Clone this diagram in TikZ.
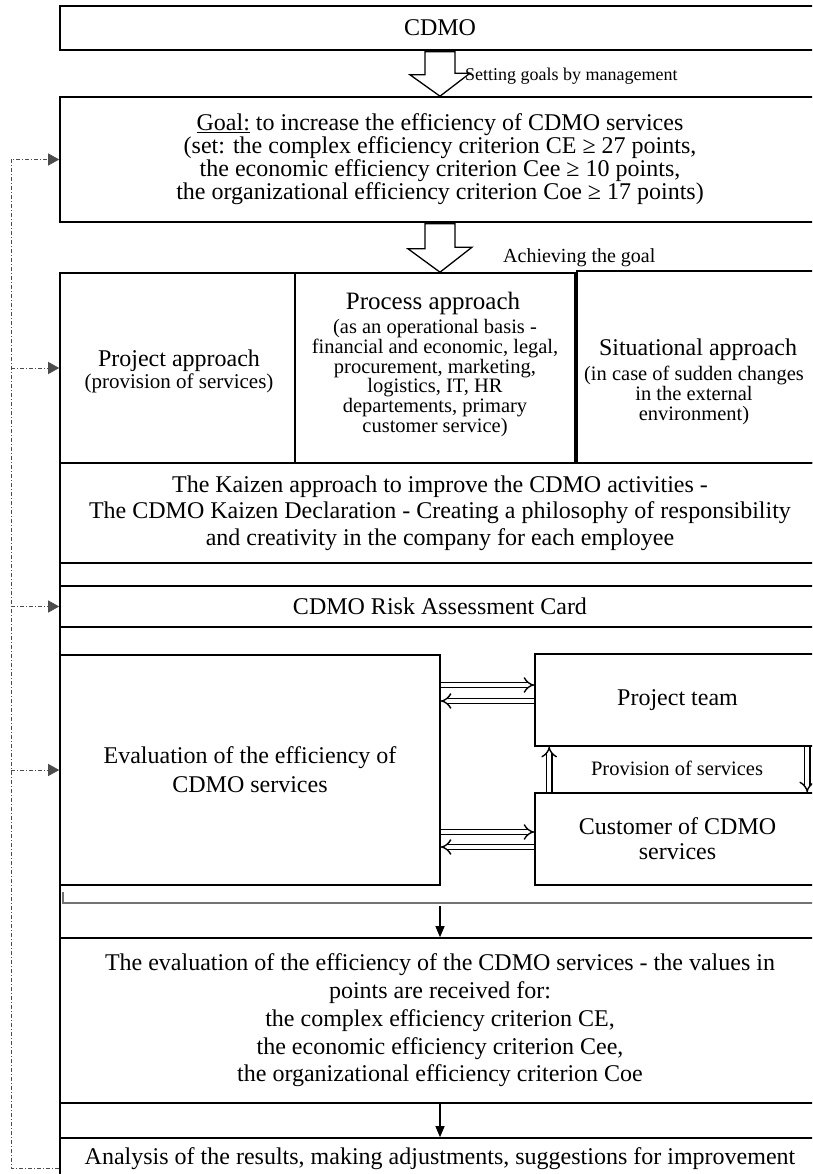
\documentclass[tikz,border=0pt]{standalone}
\usepackage{fontspec}
\setmainfont{Liberation Serif}
\usetikzlibrary{arrows.meta,calc}
\begin{document}
\begin{tikzpicture}[x=1pt,y=-1pt,
  box/.style={draw=black, line width=1.6pt, inner sep=0pt, align=center, font=\fontsize{24}{26.5}\selectfont},
  lbl/.style={inner sep=0pt, align=center},
  blk/.style={draw=black, line width=1.3pt, fill=white, line join=miter},
  dbl/.style={draw=black, double=white, double distance=4pt, line width=1.4pt, -{Implies}},
  fb/.style={draw=black!70, line width=0.8pt, dash pattern=on 4pt off 2pt on 1pt off 2pt},
  fbtip/.style={-{Triangle[width=12pt,length=11pt]}},
  thinarr/.style={draw=black, line width=1.1pt, -{Triangle[width=9pt,length=11pt]}}
]
\useasboundingbox (0,0) rectangle (812,1174);
\clip (0,0) rectangle (812,1174);

% outer frame of the lower part
\draw[line width=1.6pt] (60,463) rectangle (820,1210);

\node[box, minimum width=760pt, minimum height=44pt] (cdmo) at (440,28) {CDMO};

\node[box, minimum width=760pt, minimum height=125pt, font=\fontsize{24}{23}\selectfont] (goal) at (440,159.5)
  {\underline{Goal:} to increase the efficiency of CDMO services\\
   (set: the complex efficiency criterion CE ≥ 27 points,\\
   the economic efficiency criterion Cee ≥ 10 points,\\
   the organizational  efficiency criterion Coe ≥ 17 points)};

\node[box, minimum width=235pt, minimum height=190pt] (proj) at (177.5,368) {};
\node[box, minimum width=280pt, minimum height=190pt] (proc) at (435,368) {};
\node[box, minimum width=243pt, minimum height=192pt] (sit) at (698.5,367) {};

\node[lbl, font=\fontsize{24}{26}\selectfont] (projt) at (179,361) {Project approach};
\node[lbl, font=\fontsize{21}{22}\selectfont] (projs) at (179,383) {(provision of services)};

\node[lbl, font=\fontsize{25}{26}\selectfont] (proct) at (433,303) {Process approach};
\node[lbl, font=\fontsize{20.5}{19.8}\selectfont] (procs) at (435,378)
  {(as an operational basis -\\ financial and  economic, legal,\\ procurement, marketing,\\ logistics, IT, HR\\ departements, primary\\ customer service)};

\node[lbl, font=\fontsize{24}{26}\selectfont] (sitt) at (698,350) {Situational  approach};
\node[lbl, font=\fontsize{20.5}{20}\selectfont] (sits) at (694,395)
  {(in case of sudden changes\\ in the external\\ environment)};

\node[box, minimum width=760pt, minimum height=100pt] (kaizen) at (440,513)
  {The Kaizen approach to improve the CDMO activities -\\
   The CDMO Kaizen Declaration - Creating a philosophy of responsibility\\
   and creativity in the company  for each employee};

\node[box, minimum width=760pt, minimum height=41pt] (risk) at (440,606.5) {CDMO Risk Assessment Card};

\node[box, minimum width=380pt, minimum height=230pt, font=\fontsize{24}{29}\selectfont] (eval) at (250,770)
  {Evaluation of the efficiency of\\ CDMO services};

\node[box, minimum width=285pt, minimum height=92pt] (team) at (677.5,700) {Project team};
\node[box, minimum width=285pt, minimum height=92pt, font=\fontsize{24}{25}\selectfont] (cust) at (677.5,839) {Customer  of CDMO\\ services};
\node[lbl, font=\fontsize{20.5}{22}\selectfont] (prov) at (677,768) {Provision of services};

\draw[black!55, line width=1.2pt] (63,892) -- (63,903) -- (820,903);

\node[box, minimum width=760pt, minimum height=165pt, font=\fontsize{24}{27.7}\selectfont] (res) at (440,1020.5)
  {The evaluation of the efficiency of the CDMO services - the values in\\
   points are received for:\\
   the complex efficiency criterion CE,\\
   the economic  efficiency criterion Cee,\\
   the organizational  efficiency criterion Coe};

\node[box, minimum width=760pt, minimum height=42pt] (anal) at (440,1159)
  {Analysis of the results, making  adjustments,  suggestions  for improvement};

% block arrows
\draw[blk] ($(cdmo.south)+(-15,1)$) -- ++(0,23) -- ++(-15,0) -- (goal.north) -- ++(30,-23) -- ++(-15,0) -- ($(cdmo.south)+(15,1)$) -- cycle;
\draw[blk] ($(goal.south)+(-15,1)$) -- ++(0,25) -- ++(-17,0) -- (goal.south |- proc.north) -- ++(32,-25) -- ++(-17,0) -- ($(goal.south)+(15,1)$) -- cycle;

\node[lbl, anchor=west, font=\fontsize{18}{20}\selectfont] (setlbl) at (465,76) {Setting goals by management};
\node[lbl, anchor=west, font=\fontsize{20}{21}\selectfont] (achlbl) at (503,258) {Achieving the goal};

% double arrows
\draw[dbl] ($(eval.east |- team.west)+(0,-15)$) -- ($(team.west)+(0,-15)$);
\draw[dbl] ($(team.west)+(0,1)$) -- ($(eval.east |- team.west)+(0,1)$);
\draw[dbl] ($(eval.east |- cust.west)+(0,-7)$) -- ($(cust.west)+(0,-7)$);
\draw[dbl] ($(cust.west)+(0,8)$) -- ($(eval.east |- cust.west)+(0,8)$);
\draw[dbl] ($(cust.north west)+(15,0)$) -- ($(team.south west)+(15,0)$);
\draw[dbl] ($(team.south west)+(273,0)$) -- ($(cust.north west)+(273,0)$);

% thin arrows
\draw[thinarr] ($(eval.south -| res.north)+(0,20)$) -- (res.north);
\draw[thinarr] (res.south) -- (anal.north);

% feedback loop
\coordinate (fbx) at (11,0);
\draw[fb, fbtip] ($(anal.west)+(0,9)$) -| (fbx |- goal.west) -- (goal.west);
\draw[fb, fbtip] (fbx |- proj.west) -- (proj.west);
\draw[fb, fbtip] (fbx |- risk.west) -- (risk.west);
\draw[fb, fbtip] (fbx |- eval.west) -- (eval.west);
\end{tikzpicture}
\end{document}
